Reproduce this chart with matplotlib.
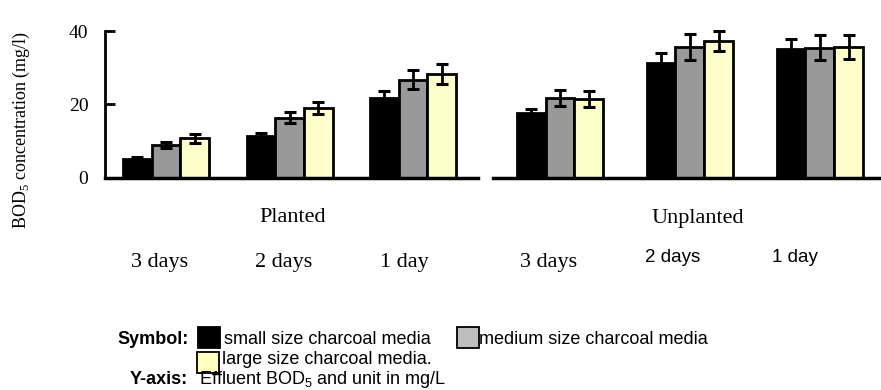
import matplotlib
matplotlib.use("Agg")
import matplotlib.pyplot as plt
import numpy as np

# ---------------- data ----------------
panels = ["Planted", "Unplanted"]
days = ["3 days", "2 days", "1 day"]
series = ["small size charcoal media", "medium size charcoal media", "large size charcoal media."]

planted_small = [5.2, 11.5, 21.8]
planted_medium = [9.0, 16.4, 26.8]
planted_large = [10.8, 19.1, 28.4]
planted_small_err = [0.6, 0.7, 2.0]
planted_medium_err = [0.9, 1.5, 2.5]
planted_large_err = [1.2, 1.7, 2.7]

unplanted_small = [17.6, 31.3, 35.0]
unplanted_medium = [21.7, 35.7, 35.4]
unplanted_large = [21.5, 37.3, 35.7]
unplanted_small_err = [1.3, 2.8, 2.8]
unplanted_medium_err = [2.2, 3.5, 3.4]
unplanted_large_err = [2.2, 2.7, 3.3]

yticks = [0, 20, 40]

# ---------------- style ----------------
W, H = 881, 390
fig = plt.figure(figsize=(W / 100, H / 100), dpi=100)
fig.patch.set_facecolor("white")

def fx(px):
    return px / W

def fy(py):
    return 1 - py / H

colors = ["#000000", "#999999", "#FFFFCC"]
legend_colors = ["#000000", "#BDBDBD", "#FFFFC0"]
serif = "Liberation Serif"
sans = "Liberation Sans"

ax1 = fig.add_axes([fx(105), fy(178), fx(478) - fx(105), (178 - 31) / H])
ax2 = fig.add_axes([fx(493), fy(178), fx(881) - fx(493), (178 - 31) / H])

def draw(ax, vals, errs, xlim, width):
    x = np.arange(len(days))
    offs = [-width, 0, width]
    for i in range(3):
        ax.bar(x + offs[i], vals[i], width, color=colors[i], edgecolor="black",
               linewidth=2.0, zorder=2)
        ax.errorbar(x + offs[i], vals[i], yerr=errs[i], fmt="none", ecolor="black",
                    elinewidth=2, capsize=4.5, capthick=2.2, zorder=3, clip_on=False)
    ax.set_xlim(*xlim)
    ax.set_ylim(0, 40)
    ax.set_xticks([])
    for s in ["top", "right"]:
        ax.spines[s].set_visible(False)
    ax.spines["bottom"].set_linewidth(2.5)
    ax.patch.set_alpha(0)

draw(ax1, [planted_small, planted_medium, planted_large],
     [planted_small_err, planted_medium_err, planted_large_err],
     (-0.494, 2.526), 0.232)
draw(ax2, [unplanted_small, unplanted_medium, unplanted_large],
     [unplanted_small_err, unplanted_medium_err, unplanted_large_err],
     (-0.515, 2.47), 0.222)

ax1.spines["left"].set_linewidth(2)
ax1.set_yticks(yticks)
ax1.set_yticklabels([str(t) for t in yticks], fontsize=14, family=serif)
ax1.tick_params(axis="y", direction="in", length=7, width=2, pad=12)
ax2.spines["left"].set_visible(False)
ax2.set_yticks([])

# y label
fig.text(fx(21), fy(130), "BOD$_{\\mathregular{5}}$ concentration (mg/l)", rotation=90,
         ha="center", va="center", fontsize=13, family=serif)

# panel labels
fig.text(fx(293), fy(218), panels[0], ha="center", va="center", fontsize=16, family=serif)
fig.text(fx(698), fy(218), panels[1], ha="center", va="center", fontsize=16, family=serif)

# day labels
left_day_x = [160, 284, 404]
right_day_x = [549, 673, 795]
for d, px in zip(days, left_day_x):
    fig.text(fx(px), fy(262), d, ha="center", va="center", fontsize=16, family=serif)
fig.text(fx(right_day_x[0]), fy(262), days[0], ha="center", va="center", fontsize=16, family=serif)
for d, px in zip(days[1:], right_day_x[1:]):
    fig.text(fx(px), fy(258), d, ha="center", va="center", fontsize=13.5, family=sans)

# custom legend block
fs = 13
fig.text(fx(117), fy(340), "Symbol:", ha="left", va="center", fontsize=fs, family=sans,
         fontweight="bold")

def box(px, py, color):
    fig.patches.append(plt.Rectangle((fx(px), fy(py + 21)), 22 / W, 21 / H,
                                     transform=fig.transFigure, facecolor=color,
                                     edgecolor="black", linewidth=1.3, zorder=3))

box(198, 327, legend_colors[0])
fig.text(fx(224), fy(340), series[0], ha="left", va="center", fontsize=fs, family=sans)
box(457, 327, legend_colors[1])
fig.text(fx(479), fy(340), series[1], ha="left", va="center", fontsize=fs, family=sans)
box(197, 352, legend_colors[2])
fig.text(fx(222), fy(360), series[2], ha="left", va="center", fontsize=fs, family=sans)

fig.text(fx(130), fy(380), "Y-axis:", ha="left", va="center", fontsize=fs, family=sans,
         fontweight="bold")
fig.text(fx(199), fy(380), "Effluent BOD$_{\\mathregular{5}}$ and unit in mg/L", ha="left",
         va="center", fontsize=fs, family=sans)

fig.savefig("out.png", dpi=100, facecolor="white")
